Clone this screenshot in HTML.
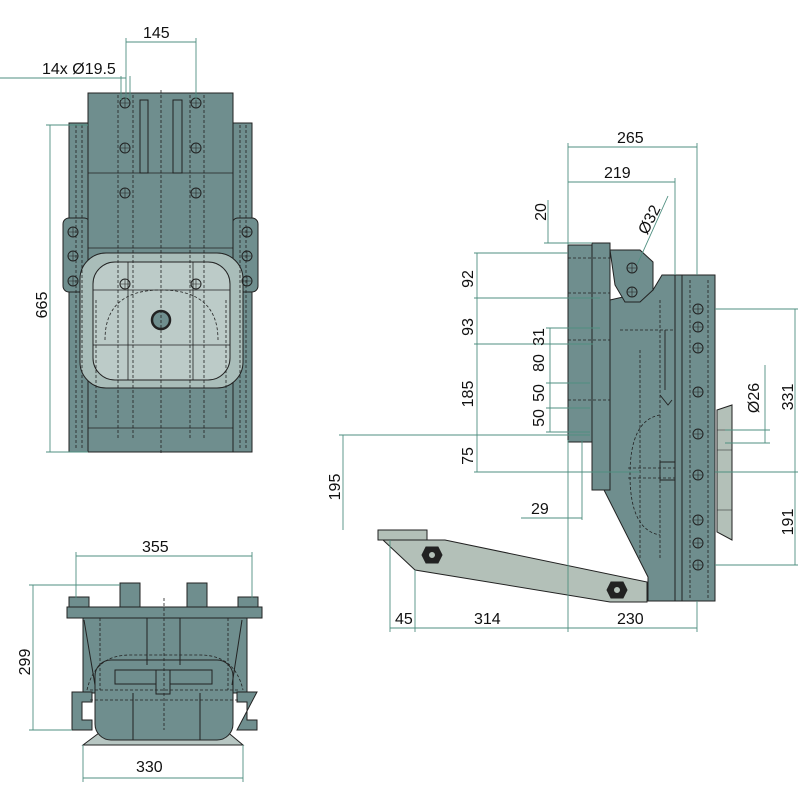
<!DOCTYPE html>
<html><head><meta charset="utf-8"><style>
html,body{margin:0;padding:0;background:#fff;}
svg{display:block;}
text{font-family:"Liberation Sans",sans-serif;font-size:16px;fill:#111;}
</style></head><body>
<svg width="800" height="800" viewBox="0 0 800 800" xmlns="http://www.w3.org/2000/svg">
<defs>
<g id="hole"><circle r="5" fill="none" stroke="#222" stroke-width="1"/><path d="M-5 0H5M0 -5V5" stroke="#222" stroke-width="0.6"/></g>
</defs>
<!-- ============ TOP VIEW ============ -->
<g stroke="#222" stroke-width="1">
  <rect x="69" y="123" width="20" height="329" fill="#6f8e8e"/>
  <rect x="232" y="123" width="20" height="329" fill="#6f8e8e"/>
  <rect x="63" y="218" width="27" height="74" rx="6" fill="#6f8e8e"/>
  <rect x="232" y="218" width="26" height="74" rx="6" fill="#6f8e8e"/>
  <rect x="88" y="93" width="145" height="359" fill="#6f8e8e"/>
  <rect x="80" y="253" width="163" height="135" rx="26" fill="#a9bdb9"/>
  <rect x="93" y="262" width="137" height="118" rx="22" fill="#bccbc8"/>
  <rect x="140" y="100" width="8" height="73" fill="#6f8e8e"/>
  <rect x="173" y="100" width="9" height="73" fill="#6f8e8e"/>
  <path d="M88 173H233M88 248H233M88 428H233M93 290H230M93 345H230M128 262V380M193 262V380" fill="none" stroke-width="0.8"/>
  <circle cx="161" cy="320" r="9" fill="#6f8e8e" stroke-width="2.5"/>
</g>
<g stroke="#222" stroke-width="0.8" stroke-dasharray="3,2" fill="none">
  <path d="M161 90V455M118 95V440M133 95V440M190 95V440M204 95V440M76 125V450M82 125V450M240 125V450M246 125V450M96 300V420M226 300V420"/>
  <path d="M105 340Q105 290 161 290Q218 290 218 340"/>
</g>
<use href="#hole" x="125" y="103"/><use href="#hole" x="196" y="103"/>
<use href="#hole" x="125" y="148"/><use href="#hole" x="196" y="148"/>
<use href="#hole" x="125" y="193"/><use href="#hole" x="196" y="193"/>
<use href="#hole" x="125" y="284"/><use href="#hole" x="196" y="284"/>
<use href="#hole" x="73" y="232"/><use href="#hole" x="73" y="256"/><use href="#hole" x="73" y="281"/>
<use href="#hole" x="247" y="232"/><use href="#hole" x="247" y="256"/><use href="#hole" x="247" y="281"/>
<g stroke="#4f8f80" stroke-width="0.9" fill="none">
  <path d="M126 42H196M126 38V100M196 38V100M0 78H126M121 76V100M130 76V100M50 125V452M46 125H88M46 452H88"/>
</g>
<text x="143" y="38">145</text>
<text x="42" y="74">14x Ø19.5</text>
<text transform="translate(47,305) rotate(-90)" text-anchor="middle">665</text>

<!-- ============ BOTTOM-LEFT VIEW ============ -->
<g stroke="#222" stroke-width="1">
  <path d="M83 745L103 730H225L243 745Z" fill="#b7c6c2"/>
  <rect x="83" y="618" width="164" height="75" fill="#6f8e8e"/>
  <rect x="95" y="660" width="138" height="80" rx="16" fill="#6f8e8e"/>
  <rect x="67" y="607" width="195" height="11" fill="#6f8e8e"/>
  <rect x="69" y="597" width="20" height="10" fill="#6f8e8e"/>
  <rect x="238" y="597" width="20" height="10" fill="#6f8e8e"/>
  <rect x="120" y="583" width="20" height="24" fill="#6f8e8e"/>
  <rect x="187" y="583" width="20" height="24" fill="#6f8e8e"/>
  <path d="M72 692H92V702H82V720H92V730H72Z" fill="#6f8e8e"/>
  <path d="M257 692H237V702H247V720H257V730H237Z" fill="#6f8e8e"/>
  <rect x="115" y="670" width="97" height="14" fill="#6f8e8e"/>
  <rect x="156" y="670" width="14" height="24" fill="#6f8e8e"/>
  <path d="M84 620L95 685M242 620L232 685M147 618V665M180 618V665M133 693V740M200 693V740" fill="none"/>
</g>
<g stroke="#222" stroke-width="0.8" stroke-dasharray="3,2" fill="none">
  <path d="M164 598V730M87 690Q95 655 130 655H200Q235 655 243 690M90 690H240M90 700H240M100 618V690M228 618V690"/>
</g>
<g stroke="#4f8f80" stroke-width="0.9" fill="none">
  <path d="M76 556H252M76 552V598M252 552V598M33 585V730M29 585H120M29 730H72M83 778H243M83 745V782M243 745V782"/>
</g>
<text x="142" y="552">355</text>
<text transform="translate(30,662) rotate(-90)" text-anchor="middle">299</text>
<text x="136" y="772">330</text>

<!-- ============ SIDE VIEW ============ -->
<g stroke="#222" stroke-width="1">
  <path d="M383 540H445L647 582V602H610L415 570Z" fill="#b3c0b8"/>
  <rect x="378" y="530" width="49" height="10" fill="#b3c0b8"/>
  <path d="M610 300L653 290L662 275H675V601H648V577L603 488H593V440H610Z" fill="#6f8e8e"/>
  <path d="M610 250H640L653 262V290L640 302H625L615 285Z" fill="#6f8e8e"/>
  <rect x="568" y="245" width="25" height="197" fill="#6f8e8e"/>
  <rect x="592" y="243" width="18" height="247" fill="#6f8e8e"/>
  <rect x="675" y="275" width="7" height="326" fill="#6f8e8e"/>
  <rect x="682" y="275" width="33" height="326" fill="#6f8e8e"/>
  <path d="M717 410L732 405V540L717 532Z" fill="#b3c0b8"/>
  <path d="M717 430H732M717 450H732M717 510H732" fill="none" stroke-width="0.6"/>
  <polygon points="426,547 438,547 442,555 438,563 426,563 422,555" fill="#222"/>
  <circle cx="432" cy="555" r="3.5" fill="#b3c0b8"/>
  <polygon points="611,582 623,582 627,590 623,598 611,598 607,590" fill="#222"/>
  <circle cx="617" cy="590" r="3.5" fill="#b3c0b8"/>
</g>
<g stroke="#222" stroke-width="0.8" stroke-dasharray="3,2" fill="none">
  <path d="M690 280V598M708 280V598M568 258H610M568 293H610M568 340H610M568 400H610M620 330H675M640 350V560M660 300V560"/>
  <path d="M660 415Q630 420 630 475Q630 530 660 535"/>
  <path d="M628 468H675M628 478H675"/>
</g>
<g stroke="#222" stroke-width="0.9" fill="none">
  <path d="M665 330V390M660 395L668 405L672 400M660 462H675V480H660Z"/>
</g>
<use href="#hole" x="632" y="268"/><use href="#hole" x="632" y="292"/>
<use href="#hole" x="698" y="309"/><use href="#hole" x="698" y="327"/><use href="#hole" x="698" y="348"/>
<use href="#hole" x="698" y="392"/><use href="#hole" x="698" y="434"/><use href="#hole" x="698" y="475"/>
<use href="#hole" x="698" y="520"/><use href="#hole" x="698" y="543"/><use href="#hole" x="698" y="565"/>
<g stroke="#4f8f80" stroke-width="0.9" fill="none">
  <path d="M568 147H697M568 143V245M697 143V275M568 182H675M675 178V275"/>
  <path d="M548 200V243M544 243H592M474 253H568M474 298H600M474 344H593M474 435H590M474 472H640M477 253V472M343 435V530M339 435H475"/>
  <path d="M550 328V432M546 328H600M546 383H590M546 408H590M546 432H590"/>
  <path d="M637 265L668 196M521 518H582M582 440V520"/>
  <path d="M715 309H798M715 472H798M715 565H798M795 309V565M765 365V443M725 430H770M725 443H770"/>
  <path d="M390 628H697M390 540V632M415 570V632M568 440V632M697 601V632"/>
</g>
<text x="617" y="143">265</text>
<text x="604" y="178">219</text>
<text transform="translate(546,212) rotate(-90)" text-anchor="middle">20</text>
<text transform="translate(654,222) rotate(-63)" text-anchor="middle">Ø32</text>
<text transform="translate(473,279) rotate(-90)" text-anchor="middle">92</text>
<text transform="translate(473,327) rotate(-90)" text-anchor="middle">93</text>
<text transform="translate(473,394) rotate(-90)" text-anchor="middle">185</text>
<text transform="translate(473,456) rotate(-90)" text-anchor="middle">75</text>
<text transform="translate(340,487) rotate(-90)" text-anchor="middle">195</text>
<text transform="translate(544,337) rotate(-90)" text-anchor="middle">31</text>
<text transform="translate(544,363) rotate(-90)" text-anchor="middle">80</text>
<text transform="translate(544,393) rotate(-90)" text-anchor="middle">50</text>
<text transform="translate(544,418) rotate(-90)" text-anchor="middle">50</text>
<text x="531" y="514">29</text>
<text transform="translate(759,398) rotate(-90)" text-anchor="middle">Ø26</text>
<text transform="translate(793,397) rotate(-90)" text-anchor="middle">331</text>
<text transform="translate(793,522) rotate(-90)" text-anchor="middle">191</text>
<text x="395" y="624">45</text>
<text x="474" y="624">314</text>
<text x="617" y="624">230</text>
</svg>
</body></html>
